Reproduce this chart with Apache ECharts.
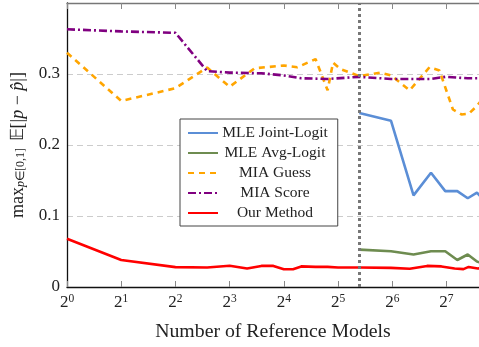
<!DOCTYPE html>
<html>
<head>
<meta charset="utf-8">
<script src="https://cdn.jsdelivr.net/npm/echarts@6/dist/echarts.min.js"></script>
<style>
  html, body { margin: 0; padding: 0; background: #fff; }
  #chart { width: 479px; height: 347px; }
</style>
</head>
<body>
<div id="chart"></div>
<script>
// data: [number of reference models, error]
var mleJoint = [[42, 0.245], [63, 0.234], [84, 0.129], [105, 0.161], [126, 0.135], [147, 0.135], [168, 0.125], [189, 0.133], [210, 0.12]];
var mleAvg = [[42, 0.0527], [63, 0.0504], [84, 0.0458], [105, 0.0504], [126, 0.0504], [147, 0.038], [168, 0.0458], [189, 0.0358], [210, 0.032]];
var miaGuess = [[1, 0.330], [2, 0.262], [4, 0.280], [6, 0.309], [8, 0.282], [11, 0.308], [16, 0.312], [19, 0.3095], [24, 0.321],
  [28, 0.277], [30, 0.316], [33, 0.307], [42, 0.297], [55, 0.302], [63, 0.298], [80, 0.277], [103, 0.3095], [117, 0.305],
  [139, 0.250], [155, 0.243], [170, 0.244], [189, 0.255], [210, 0.27]];
var miaScore = [[1, 0.363], [2, 0.360], [4, 0.358], [6, 0.304], [8, 0.302], [12, 0.301], [16, 0.298], [20, 0.294], [28, 0.293],
  [42, 0.296], [63, 0.293], [105, 0.293], [126, 0.296], [168, 0.294], [210, 0.294]];
var ourMethod = [[1, 0.068], [2, 0.038], [4, 0.028], [6, 0.0275], [8, 0.030], [10, 0.026], [12, 0.0297], [14, 0.0297], [16, 0.025],
  [18, 0.025], [20, 0.029], [24, 0.0283], [28, 0.0283], [32, 0.0275], [42, 0.0275], [63, 0.027], [80, 0.0256], [100, 0.0297],
  [120, 0.029], [142, 0.026], [159, 0.0252], [170, 0.0283], [191, 0.026], [210, 0.027]];
var splitAt = 42;
var xExp = [0, 1, 2, 3, 4, 5, 6, 7];
var yTicks = [0, 0.1, 0.2, 0.3];

var serif = 'Liberation Serif';

function toLog(d) {
  return d.map(function (p) { return [Math.log2(p[0]), p[1]]; });
}

var myChart = echarts.init(document.getElementById('chart'));

function mkSeries(name, data, color, dash) {
  return {
    name: name,
    type: 'line',
    data: toLog(data),
    symbol: 'none',
    lineStyle: { color: color, width: 2.6, type: dash || 'solid' },
    itemStyle: { color: color },
    clip: true,
    animation: false
  };
}

var series = [
  mkSeries('MLE Joint-Logit', mleJoint, '#5b8ed6'),
  mkSeries('MLE Avg-Logit', mleAvg, '#6e8c50'),
  mkSeries('MIA Guess', miaGuess, '#ffa500', [6, 5]),
  mkSeries('MIA Score', miaScore, '#800080', [8, 3, 2, 3]),
  mkSeries('Our Method', ourMethod, '#ff0000')
];
series[0].markLine = {
  silent: true,
  symbol: 'none',
  label: { show: false },
  lineStyle: { color: '#777', width: 3, type: [3, 3] },
  data: [{ xAxis: Math.log2(splitAt) }]
};

var option = {
  animation: false,
  grid: { left: 67, right: 0, top: 3, bottom: 54 },
  legend: {
    orient: 'vertical',
    left: 180,
    top: 119,
    padding: [6, 10, 5, 7],
    itemWidth: 30,
    itemHeight: 14,
    itemGap: 4,
    borderColor: '#444',
    borderWidth: 1,
    backgroundColor: '#fff',
    itemStyle: { opacity: 0 },
    formatter: function (name) { return '{c|' + name + '}'; },
    textStyle: {
      rich: {
        c: { fontFamily: serif, fontSize: 15.5, color: '#222', width: 104, align: 'center', lineHeight: 14 }
      }
    },
    data: ['MLE Joint-Logit', 'MLE Avg-Logit', 'MIA Guess', 'MIA Score', 'Our Method']
  },
  xAxis: [{
    type: 'value',
    min: 0,
    max: 7.6,
    interval: 1,
    name: 'Number of Reference Models',
    nameLocation: 'middle',
    nameGap: 35,
    nameTextStyle: { fontFamily: serif, fontSize: 19.8, color: '#222' },
    axisLine: { lineStyle: { color: '#111', width: 1.3 } },
    axisTick: { inside: true, length: 6, lineStyle: { color: '#888' } },
    splitLine: { show: false },
    axisLabel: {
      showMaxLabel: false,
      margin: 6,
      formatter: function (v) { return xExp.indexOf(v) >= 0 ? '{b|2}{s|' + v + '}' : ''; },
      rich: {
        b: { fontFamily: serif, fontSize: 17, color: '#222', lineHeight: 20 },
        s: { fontFamily: serif, fontSize: 11.5, color: '#222', lineHeight: 20, verticalAlign: 'top', padding: [0, 0, 6, 0] }
      }
    }
  }, {
    type: 'value',
    position: 'top',
    min: 0,
    max: 7.6,
    interval: 1,
    axisLine: { lineStyle: { color: '#777', width: 1.3 } },
    axisTick: { inside: true, length: 6, lineStyle: { color: '#888' } },
    axisLabel: { show: false },
    splitLine: { show: false }
  }],
  yAxis: {
    type: 'value',
    min: 0,
    max: 0.4,
    interval: 0.1,
    name: '{n|max}{si|p}{sub|∈[0,1]}{n| 𝔼[|}{i|p}{n| − }{i|p̂}{n||]}',
    nameLocation: 'middle',
    nameGap: 40,
    nameTextStyle: {
      rich: {
        n: { fontFamily: serif, fontSize: 18, color: '#222' },
        i: { fontFamily: serif, fontSize: 18, color: '#222', fontStyle: 'italic' },
        si: { fontFamily: serif, fontSize: 12, color: '#222', fontStyle: 'italic', verticalAlign: 'bottom', padding: [6, 0, 0, 0] },
        sub: { fontFamily: serif, fontSize: 12, color: '#222', verticalAlign: 'bottom', padding: [6, 2, 0, 0] }
      }
    },
    axisLine: { show: true, lineStyle: { color: '#111', width: 1.3 } },
    axisTick: { show: false },
    splitLine: { show: true, lineStyle: { color: '#ccc', type: [6, 4], width: 1.2 } },
    axisLabel: {
      showMaxLabel: false,
      margin: 7,
      fontFamily: serif,
      fontSize: 17,
      color: '#222',
      formatter: function (v) { return yTicks.indexOf(Math.round(v * 10) / 10) >= 0 ? String(Math.round(v * 10) / 10) : ''; }
    }
  },
  series: series
};
myChart.setOption(option);
</script>
</body>
</html>
